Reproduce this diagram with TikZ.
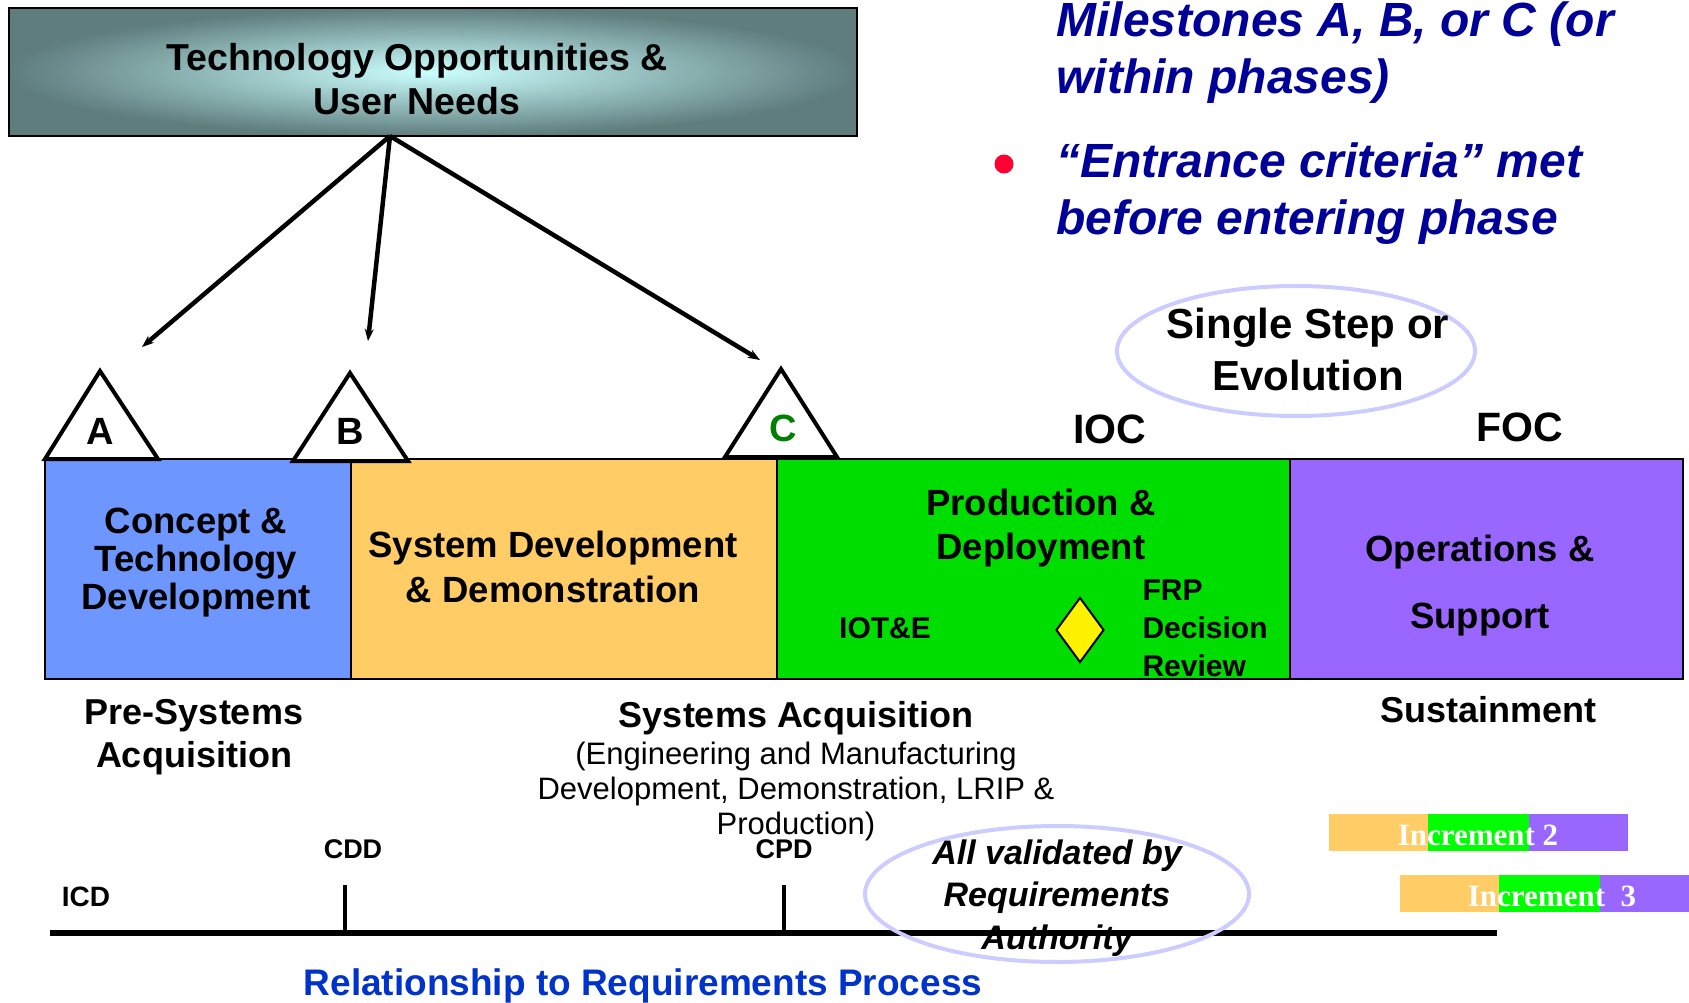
\documentclass[tikz,border=0pt]{standalone}
\usepackage{fontspec}
\setmainfont{Liberation Sans}
\newfontfamily\incfont{Liberation Serif}
\usetikzlibrary{positioning,shapes.geometric,arrows.meta}
\definecolor{phaseblue}{RGB}{110,150,255}
\definecolor{phaseorange}{RGB}{255,204,102}
\definecolor{phasegreen}{RGB}{0,221,0}
\definecolor{incgreen}{RGB}{0,255,0}
\definecolor{phasepurple}{RGB}{153,102,255}
\definecolor{lavender}{RGB}{204,204,255}
\definecolor{navy}{RGB}{0,0,153}
\definecolor{reqblue}{RGB}{0,51,204}
\definecolor{tealdark}{RGB}{95,125,125}
\definecolor{tealpale}{RGB}{204,255,255}
\definecolor{cgreen}{RGB}{0,128,0}
\definecolor{bulletred}{RGB}{255,0,51}
\newcommand{\sizept}[2]{\fontsize{#1pt}{#2pt}\selectfont}

\begin{document}
\begin{tikzpicture}[x=1pt,y=-1pt,
   phase/.style={draw, line width=2pt, rectangle, minimum height=220pt, outer sep=0pt, inner sep=0pt},
   phasetext/.style={font=\sizept{36.5}{38}\bfseries, align=center},
   milestone/.style={draw, line width=4pt, fill=white, line join=miter},
   letter/.style={font=\sizept{38}{40}\bfseries},
   link/.style={line width=4.5pt, -{Stealth[length=12pt,width=9pt]}},
   bubble/.style={ellipse, draw=lavender, line width=4pt, inner sep=0pt},
   incbar/.style={rectangle, minimum height=37pt, inner sep=0pt, outer sep=0pt},
   inctext/.style={font=\incfont\sizept{31}{33}\bfseries, text=white},
   tick/.style={line width=4pt}]
   \useasboundingbox (0,0) rectangle (1689,1003);

   % top box
   \node[draw, line width=2pt, rectangle, minimum width=848pt, minimum height=128pt,
         inner color=tealpale, outer color=tealdark] (needs) at (433,72) {};
   \node[font=\sizept{37.5}{44}\bfseries, align=center] (needstext) at (417,79)
      {Technology Opportunities \&\\User Needs};

   % notes top right
   \node[font=\sizept{48}{57}\bfseries\itshape, text=navy, align=left, anchor=base west] (milestones)
      at (1053,94) {Milestones A, B, or C (or\\within phases)};
   \node[circle, fill=bulletred, minimum size=19pt, inner sep=0pt] (bullet) at (1004,164) {};
   \node[font=\sizept{48}{57}\bfseries\itshape, text=navy, align=left, anchor=base west] (entrance)
      at (1053,234) {``Entrance criteria'' met\\before entering phase};

   % phases
   \node[phase, fill=phaseblue, minimum width=306pt] (pre) at (198,569) {};
   \node[phase, fill=phaseorange, minimum width=426pt, right=0pt of pre] (sdd) {};
   \node[phase, fill=phasegreen, minimum width=513pt, right=0pt of sdd] (pd) {};
   \node[phase, fill=phasepurple, minimum width=393pt, right=0pt of pd] (os) {};

   \node[phasetext] (pretext) at (196,563) {Concept \&\\Technology\\Development};
   \node[phasetext, font=\sizept{36.5}{45}\bfseries] (sddtext) at (553,567) {System Development\\\& Demonstration};
   \node[phasetext, font=\sizept{36.5}{44}\bfseries] (pdtext) at (1041,528) {Production \&\\Deployment};
   \node[phasetext, font=\sizept{36.5}{67}\bfseries] (ostext) at (1480,586) {Operations \&\\Support};
   \node[font=\sizept{30}{32}\bfseries] (iote) at (885,628) {IOT\&E};
   \node[diamond, draw, line width=2pt, fill=yellow, minimum width=48pt, minimum height=65pt, inner sep=0pt] (frp) at (1080,630) {};
   \node[font=\sizept{30}{38}\bfseries, align=left, anchor=west] (frptext) at (1139,628) {FRP\\Decision\\Review};

   % milestones
   \draw[milestone] (45,459) -- (100,371) -- (158,459) -- cycle;
   \draw[milestone] (293,461) -- (350,373) -- (408,461) -- cycle;
   \draw[milestone] (725,457) -- (781,369) -- (837,457) -- cycle;
   \node[letter] (msA) at (100,431) {A};
   \node[letter] (msB) at (350,431) {B};
   \node[letter, text=cgreen] (msC) at (783,428) {C};
   \node[font=\sizept{41}{43}\bfseries] (ioc) at (1110,429) {IOC};
   \node[font=\sizept{41}{43}\bfseries] (foc) at (1520,427) {FOC};
   \node[bubble, minimum width=358pt, minimum height=130pt] (single) at (1296,351) {};
   \node[font=\sizept{42}{52}\bfseries, align=center] (singletext) at (1308,349) {Single Step or\\Evolution};

   % arrows from needs
   \coordinate (fan) at (390,136);
   \coordinate (endA) at (142,347);
   \coordinate (endB) at (368,341);
   \coordinate (endC) at (760,360);
   \draw[link] (fan) -- (endA);
   \draw[link] (fan) -- (endB);
   \draw[link] (fan) -- (endC);

   % labels under phases
   \node[font=\sizept{36}{43}\bfseries, align=center] (presys) at (194,737) {Pre-Systems\\Acquisition};
   \node[font=\sizept{36}{38}\bfseries] (sysacq) at (796,718) {Systems Acquisition};
   \node[font=\sizept{31}{35}, align=center, below=0pt of sysacq] (sysnote)
      {(Engineering and Manufacturing\\Development, Demonstration, LRIP \&\\Production)};
   \node[font=\sizept{36}{38}\bfseries] (sustain) at (1488,710) {Sustainment};

   % requirements line
   \coordinate (lineL) at (50,933);
   \coordinate (lineR) at (1497,933);
   \draw[line width=6pt] (lineL) -- (lineR);
   \coordinate (cdd) at (345,933);
   \coordinate (cpd) at (784,933);
   \draw[tick] (cdd) -- ++(0,-48);
   \draw[tick] (cpd) -- ++(0,-48);
   \node[font=\sizept{27}{29}\bfseries] (cddtext) at (353,849) {CDD};
   \node[font=\sizept{27}{29}\bfseries] (cpdtext) at (784,849) {CPD};
   \node[font=\sizept{28}{30}\bfseries] (icdtext) at (86,897) {ICD};
   \node[bubble, minimum width=384pt, minimum height=136pt] (valid) at (1057,894) {};
   \node[font=\sizept{34}{42.5}\bfseries\itshape, align=center] (validtext) at (1057,898)
      {All validated by\\Requirements\\Authority};
   \node[font=\sizept{37}{39}\bfseries, text=reqblue] (reqtitle) at (643,986) {Relationship to Requirements Process};

   % increments
   \node[incbar, fill=phaseorange, minimum width=99pt] (inc2a) at (1378.5,832.5) {};
   \node[incbar, fill=incgreen, minimum width=101pt, right=0pt of inc2a] (inc2b) {};
   \node[incbar, fill=phasepurple, minimum width=99pt, right=0pt of inc2b] (inc2c) {};
   \node[inctext] (inc2) at (1478,835) {Increment 2};
   \node[incbar, fill=phaseorange, minimum width=99pt] (inc3a) at (1449.5,893) {};
   \node[incbar, fill=incgreen, minimum width=101pt, right=0pt of inc3a] (inc3b) {};
   \node[incbar, fill=phasepurple, minimum width=89pt, right=0pt of inc3b] (inc3c) {};
   \node[inctext] (inc3) at (1552,896) {Increment~~3};
\end{tikzpicture}
\end{document}
